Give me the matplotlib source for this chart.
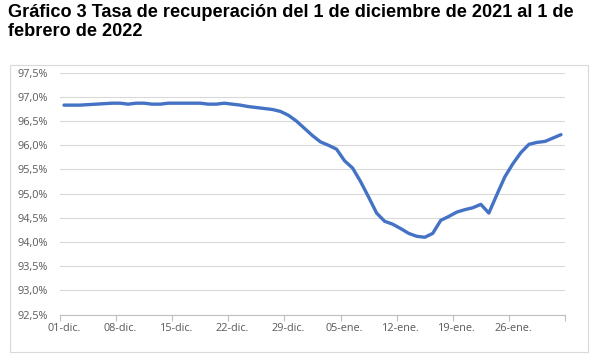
import matplotlib
matplotlib.use("Agg")
import matplotlib.pyplot as plt
from matplotlib.patches import Rectangle

title = "Gráfico 3 Tasa de recuperación del 1 de diciembre de 2021 al 1 de\nfebrero de 2022"

tick_labels = ["01-dic.", "08-dic.", "15-dic.", "22-dic.", "29-dic.",
               "05-ene.", "12-ene.", "19-ene.", "26-ene."]

# Daily recovery rate (%), 1 Dec 2021 .. 1 Feb 2022
rate = [96.83, 96.83, 96.83, 96.84, 96.85, 96.86, 96.87, 96.87, 96.85, 96.87,
        96.87, 96.85, 96.85, 96.87, 96.87, 96.87, 96.87, 96.87, 96.85, 96.85,
        96.87, 96.85, 96.83, 96.80, 96.78, 96.76, 96.74, 96.70, 96.62, 96.50,
        96.35, 96.20, 96.07, 96.00, 95.92, 95.68, 95.53, 95.25, 94.93, 94.60,
        94.43, 94.37, 94.28, 94.18, 94.12, 94.10, 94.18, 94.45, 94.53, 94.62,
        94.67, 94.71, 94.78, 94.60, 94.98, 95.35, 95.62, 95.85, 96.02, 96.06,
        96.08, 96.15, 96.22]

y_ticks = [92.5, 93.0, 93.5, 94.0, 94.5, 95.0, 95.5, 96.0, 96.5, 97.0, 97.5]

W, H = 601, 362
fig = plt.figure(figsize=(W / 100, H / 100), dpi=100)
fig.patch.set_facecolor("white")

# outer chart frame
fig.add_artist(Rectangle((10 / W, 1 - 352 / H), (588 - 10) / W, (352 - 65) / H,
                         transform=fig.transFigure, fill=False,
                         edgecolor="#d9d9d9", linewidth=0.8))

fig.text(8 / W, 1 - 4 / H, title, ha="left", va="top",
         fontsize=13.1, fontweight="bold", family="Liberation Sans",
         color="black", linespacing=1.12)

left, right, top, bottom = 60, 565, 72.7, 314.7
ax = fig.add_axes([left / W, 1 - bottom / H, (right - left) / W, (bottom - top) / H])

x = list(range(len(rate)))
ax.plot(x, rate, color="#4472C4", linewidth=2.4, solid_capstyle="round",
        solid_joinstyle="round", zorder=3)

ax.set_xlim(-0.5, 62.5)
ax.set_ylim(92.5, 97.5)

ax.set_yticks(y_ticks)
ax.set_yticklabels([f"{v:.1f}%".replace(".", ",") for v in y_ticks])
ax.tick_params(axis="y", length=0, pad=9, labelsize=7.8, labelcolor="#595959")
ax.grid(axis="y", color="#d9d9d9", linewidth=0.8)
ax.set_axisbelow(True)

major = [-0.5 + 7 * k for k in range(10)]
ax.set_xticks(major)
ax.set_xticklabels([""] * len(major))
ax.tick_params(axis="x", which="major", length=4, color="#bfbfbf", width=0.8,
               direction="out")
minor = [7 * k for k in range(len(tick_labels))]
ax.set_xticks(minor, minor=True)
ax.set_xticklabels(tick_labels, minor=True)
ax.tick_params(axis="x", which="minor", length=0, pad=6, labelsize=7.8,
               labelcolor="#595959")

for side in ["left", "right", "top"]:
    ax.spines[side].set_visible(False)
ax.spines["bottom"].set_color("#bfbfbf")
ax.spines["bottom"].set_linewidth(0.8)

for lab in ax.get_xticklabels(minor=True) + ax.get_yticklabels():
    lab.set_family("Open Sans")

fig.savefig("out.png", dpi=100, facecolor="white")
